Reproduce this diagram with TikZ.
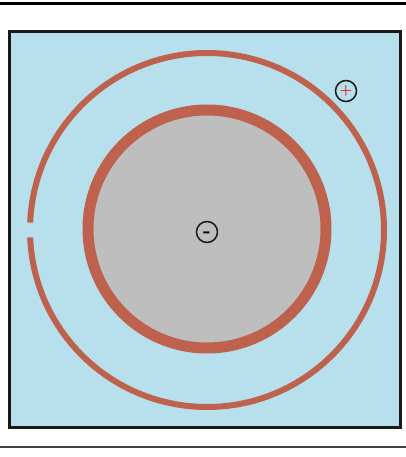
\documentclass[tikz,border=0pt]{standalone}
\usepackage{amsmath,amssymb}
\usepackage{tikz}
\definecolor{sea}{RGB}{183,224,236}
\definecolor{rust}{RGB}{190,98,78}
\definecolor{core}{RGB}{190,190,190}
\tikzset{charge/.style={draw=black!90,circle,line width=1.5pt,inner sep=0pt,minimum size=21pt,font=\Large\bfseries}}
\begin{document}
\begin{tikzpicture}[x=1pt,y=-1pt]
\useasboundingbox (0,0) rectangle (406,457);
\draw[line width=3pt] (0,3.5) -- (406,3.5);
\draw[black!75,line width=1.6pt] (0,447) -- (406,447);
\filldraw[fill=sea,draw=black!90,line width=3pt] (9.5,32) rectangle (400.5,427);
% outer shell with a slit on the left
\draw[rust,line width=6pt] (207,230) ++(182.4:177) arc[start angle=182.4,end angle=537.6,radius=177];
% inner sphere
\filldraw[fill=core,draw=rust,line width=11pt] (207,229) circle (119);
\node[charge,text=red] (plus) at (346,91) {+};
\node[charge,font=\huge\bfseries] (minus) at (207,232) {\smash{\raisebox{-5.5pt}{-}}};
\end{tikzpicture}
\end{document}
